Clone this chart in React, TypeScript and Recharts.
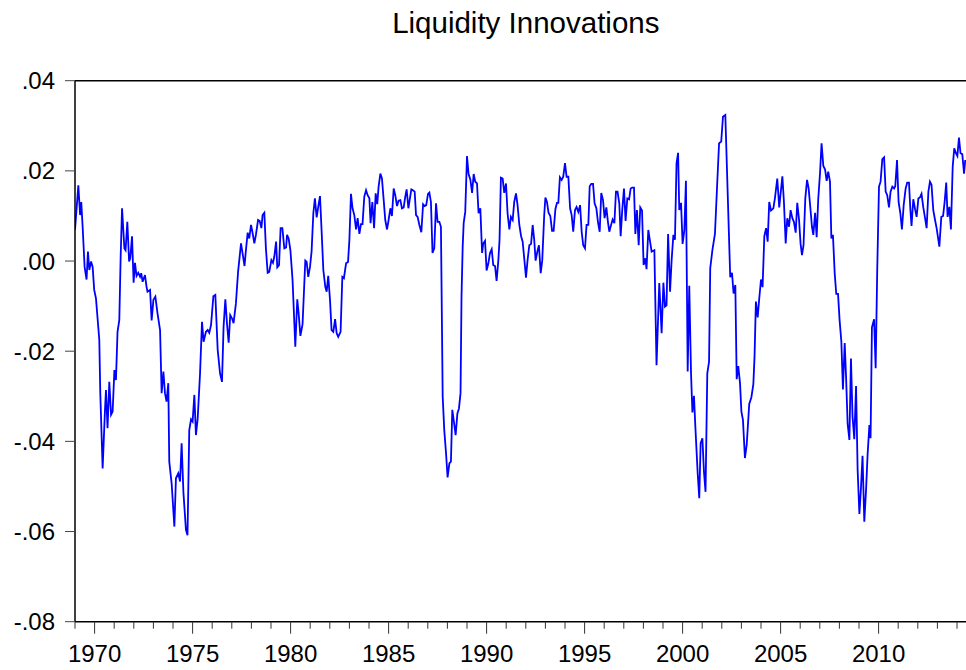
import React from "react";
import { LineChart, Line, XAxis, YAxis, ReferenceLine } from "recharts";

const TITLE = "Liquidity Innovations";

const dates: number[] = [
  1969.00,1969.17,1969.26,1969.32,1969.39,1969.49,1969.59,1969.66,1969.73,1969.82,1969.90,1969.98,
  1970.07,1970.24,1970.29,1970.41,1970.53,1970.58,1970.66,1970.75,1970.84,1970.92,
  1971.01,1971.09,1971.17,1971.26,1971.33,1971.40,1971.52,1971.58,1971.67,1971.76,1971.82,1971.91,1971.99,
  1972.06,1972.14,1972.23,1972.32,1972.38,1972.45,1972.57,1972.65,1972.70,1972.83,1972.91,
  1973.00,1973.10,1973.21,1973.34,1973.42,1973.51,1973.59,1973.67,1973.76,1973.81,1973.93,
  1974.07,1974.15,1974.27,1974.36,1974.44,1974.53,1974.66,1974.74,1974.83,1974.92,
  1975.00,1975.09,1975.17,1975.26,1975.38,1975.48,1975.56,1975.68,1975.77,1975.85,1975.94,
  1976.06,1976.16,1976.28,1976.40,1976.50,1976.58,1976.67,1976.76,1976.84,1976.92,
  1977.01,1977.09,1977.21,1977.32,1977.47,1977.55,1977.65,1977.72,1977.81,1977.89,1977.98,
  1978.05,1978.15,1978.23,1978.34,1978.42,1978.51,1978.57,1978.66,1978.74,1978.83,1978.91,
  1979.02,1979.10,1979.17,1979.26,1979.32,1979.41,1979.49,1979.58,1979.68,1979.77,1979.82,1979.90,1979.99,
  1980.10,1980.24,1980.34,1980.41,1980.50,1980.61,1980.75,1980.82,1980.90,1980.99,
  1981.07,1981.16,1981.24,1981.33,1981.41,1981.50,1981.58,1981.67,1981.77,1981.84,1981.92,
  1982.01,1982.09,1982.18,1982.27,1982.35,1982.43,1982.55,1982.64,1982.72,1982.83,1982.93,
  1983.00,1983.08,1983.16,1983.25,1983.34,1983.42,1983.51,1983.59,1983.67,1983.76,1983.85,1983.93,
  1984.02,1984.08,1984.17,1984.26,1984.34,1984.42,1984.49,1984.58,1984.66,1984.75,1984.83,1984.92,
  1985.00,1985.09,1985.17,1985.26,1985.34,1985.43,1985.51,1985.60,1985.68,1985.77,1985.85,1985.92,
  1986.01,1986.07,1986.16,1986.24,1986.33,1986.40,1986.48,1986.57,1986.67,1986.76,1986.84,1986.92,
  1987.01,1987.08,1987.16,1987.24,1987.33,1987.42,1987.50,1987.59,1987.67,1987.76,1987.84,1987.93,
  1988.01,1988.10,1988.18,1988.25,1988.34,1988.42,1988.51,1988.59,1988.67,1988.72,1988.78,1988.83,1988.91,
  1989.00,1989.08,1989.17,1989.26,1989.34,1989.42,1989.51,1989.59,1989.68,1989.77,1989.83,1989.92,
  1990.00,1990.09,1990.17,1990.26,1990.34,1990.43,1990.51,1990.60,1990.66,1990.73,1990.82,1990.90,1990.99,
  1991.07,1991.16,1991.24,1991.33,1991.41,1991.50,1991.58,1991.67,1991.76,1991.84,1991.92,
  1992.01,1992.09,1992.18,1992.27,1992.35,1992.43,1992.50,1992.59,1992.67,1992.76,1992.84,1992.94,
  1993.00,1993.08,1993.16,1993.25,1993.34,1993.42,1993.51,1993.59,1993.66,1993.74,1993.83,1993.91,
  1994.00,1994.08,1994.17,1994.26,1994.34,1994.42,1994.51,1994.59,1994.68,1994.77,1994.85,1994.93,
  1995.02,1995.10,1995.19,1995.26,1995.34,1995.43,1995.51,1995.60,1995.68,1995.77,1995.85,1995.94,
  1996.02,1996.11,1996.19,1996.26,1996.35,1996.43,1996.52,1996.60,1996.68,1996.77,1996.84,1996.92,
  1997.01,1997.09,1997.18,1997.27,1997.35,1997.43,1997.52,1997.59,1997.67,1997.76,1997.84,1997.93,
  1998.01,1998.10,1998.16,1998.25,1998.34,1998.42,1998.56,1998.67,1998.81,1998.93,
  1999.02,1999.10,1999.18,1999.26,1999.36,1999.44,1999.53,1999.61,1999.69,1999.77,1999.83,1999.92,
  2000.00,2000.09,2000.17,2000.26,2000.34,2000.43,2000.50,2000.58,2000.65,2000.77,2000.85,2000.92,
  2001.01,2001.09,2001.17,2001.26,2001.35,2001.41,2001.52,2001.65,2001.77,2001.86,2001.97,
  2002.06,2002.18,2002.43,2002.52,2002.60,2002.69,2002.76,2002.84,2002.93,
  2003.00,2003.08,2003.18,2003.27,2003.40,2003.51,2003.61,2003.67,2003.74,2003.83,2003.91,
  2004.00,2004.08,2004.17,2004.26,2004.34,2004.42,2004.51,2004.63,2004.71,2004.83,2004.93,
  2005.09,2005.17,2005.26,2005.34,2005.43,2005.51,2005.60,2005.68,2005.77,2005.85,2005.94,
  2006.02,2006.09,2006.17,2006.26,2006.35,2006.43,2006.52,2006.60,2006.67,2006.76,2006.84,2006.92,
  2007.01,2007.09,2007.18,2007.27,2007.35,2007.43,2007.52,2007.59,2007.67,2007.76,2007.84,2007.93,
  2008.01,2008.10,2008.18,2008.27,2008.34,2008.42,2008.51,2008.59,2008.67,2008.76,2008.85,2008.93,
  2009.02,2009.10,2009.18,2009.27,2009.36,2009.44,2009.53,2009.59,2009.66,2009.77,2009.85,2009.93,
  2010.02,2010.10,2010.19,2010.28,2010.36,2010.44,2010.53,2010.61,2010.70,2010.79,2010.85,2010.94,
  2011.02,2011.11,2011.19,2011.28,2011.38,2011.46,2011.55,2011.62,2011.68,2011.77,2011.86,2011.94,
  2012.03,2012.11,2012.19,2012.28,2012.37,2012.45,2012.54,2012.62,2012.70,2012.79,2012.88,2012.96,
  2013.10,2013.20,2013.29,2013.37,2013.45,2013.52,2013.61,2013.69,2013.78,2013.86,2013.95,
  2014.02,2014.10,2014.18,2014.27,2014.36,2014.42,
];

const values: number[] = [
  .0069,.0168,.0102,.0131,.0076,-.0013,-.0041,.0021,-.0020,-.0001,-.0013,-.0064,
  -.0083,-.0175,-.0293,-.0460,-.0330,-.0286,-.0371,-.0268,-.0341,-.0334,
  -.0242,-.0264,-.0157,-.0131,.0010,.0117,.0028,.0024,.0087,-.0001,.0006,.0055,-.0048,
  -.0004,-.0033,-.0026,-.0035,-.0027,-.0046,-.0031,-.0057,-.0068,-.0064,-.0132,
  -.0086,-.0079,-.0116,-.0153,-.0293,-.0245,-.0293,-.0312,-.0271,-.0445,-.0493,
  -.0589,-.0482,-.0471,-.0489,-.0404,-.0512,-.0596,-.0608,-.0375,-.0351,
  -.0356,-.0297,-.0386,-.0349,-.0249,-.0135,-.0179,-.0157,-.0153,-.0159,-.0142,
  -.0078,-.0075,-.0197,-.0249,-.0268,-.0146,-.0085,-.0142,-.0181,-.0120,
  -.0127,-.0138,-.0094,-.0024,.0039,.0017,-.0011,.0024,.0063,.0050,.0080,
  .0065,.0039,.0058,.0091,.0089,.0073,.0102,.0107,.0028,-.0026,-.0024,
  .0002,-.0004,.0010,.0043,-.0014,-.0009,.0073,.0073,.0028,.0030,.0058,.0050,.0024,
  -.0042,-.0190,-.0085,-.0116,-.0166,-.0140,.0001,-.0002,-.0035,-.0013,
  .0021,.0106,.0139,.0097,.0120,.0144,.0069,-.0020,-.0057,-.0068,-.0033,
  -.0086,-.0153,-.0157,-.0129,-.0160,-.0168,-.0157,-.0035,-.0038,-.0005,-.0002,
  .0047,.0149,.0117,.0102,.0070,.0095,.0060,.0082,.0082,.0143,.0157,.0146,
  .0139,.0084,.0131,.0073,.0150,.0126,.0165,.0194,.0183,.0135,.0091,.0070,
  .0091,.0117,.0100,.0161,.0146,.0122,.0134,.0135,.0117,.0119,.0143,.0159,
  .0117,.0134,.0159,.0157,.0154,.0102,.0098,.0080,.0064,.0126,.0122,.0124,
  .0149,.0152,.0131,.0018,.0028,.0128,.0087,.0087,.0076,-.0301,-.0375,-.0426,
  -.0480,-.0449,-.0445,-.0330,-.0359,-.0386,-.0338,-.0327,-.0293,-.0079,.0032,.0084,.0109,
  .0233,.0193,.0181,.0151,.0193,.0176,.0172,.0106,.0117,.0018,.0039,.0045,
  -.0021,-.0005,.0017,.0026,-.0009,-.0011,-.0044,.0002,.0047,.0185,.0183,.0151,.0172,
  .0106,.0070,.0098,.0091,.0131,.0150,.0124,.0080,.0055,.0043,.0006,
  -.0037,.0002,.0035,.0038,.0080,.0047,.0001,.0021,.0035,-.0027,.0002,.0102,
  .0141,.0131,.0107,.0100,.0067,.0067,.0115,.0129,.0129,.0186,.0180,.0187,
  .0217,.0187,.0187,.0117,.0102,.0065,.0113,.0120,.0109,.0124,.0065,.0035,
  .0028,.0080,.0080,.0166,.0171,.0171,.0128,.0117,.0087,.0065,.0151,.0135,
  .0095,.0119,.0087,.0065,.0080,.0092,.0084,.0154,.0154,.0128,.0055,.0113,
  .0161,.0089,.0139,.0137,.0161,.0163,.0163,.0060,.0113,.0035,.0119,.0112,
  -.0009,.0006,-.0018,.0069,.0043,.0021,.0024,-.0231,-.0049,-.0160,
  -.0048,-.0101,-.0098,.0060,-.0068,.0002,.0058,.0047,.0217,.0240,.0113,.0129,
  .0038,.0069,.0178,-.0245,-.0055,-.0249,-.0336,-.0299,-.0367,-.0471,-.0526,-.0404,
  -.0393,-.0467,-.0512,-.0249,-.0223,-.0016,.0024,.0060,.0176,.0261,.0265,
  .0320,.0324,-.0036,-.0026,-.0072,-.0053,-.0262,-.0233,-.0271,
  -.0334,-.0353,-.0437,-.0408,-.0317,-.0302,-.0273,-.0212,-.0090,-.0125,-.0083,
  -.0041,-.0058,.0055,.0073,.0043,.0131,.0112,.0117,.0139,.0183,.0119,
  .0188,.0131,.0039,.0095,.0076,.0113,.0095,.0087,.0063,.0129,.0092,
  .0038,.0013,.0035,.0139,.0180,.0161,.0117,.0076,.0058,.0107,.0053,.0137,
  .0194,.0261,.0211,.0203,.0178,.0198,.0176,.0050,.0058,-.0027,-.0073,-.0073,
  -.0131,-.0179,-.0285,-.0182,-.0257,-.0361,-.0397,-.0216,-.0345,-.0395,-.0277,-.0463,
  -.0561,-.0504,-.0432,-.0578,-.0508,-.0428,-.0364,-.0393,-.0147,-.0129,-.0238,-.0020,
  .0165,.0176,.0226,.0230,.0154,.0146,.0119,.0154,.0165,.0161,.0166,.0224,
  .0131,.0106,.0070,.0124,.0161,.0174,.0174,.0115,.0078,.0137,.0115,.0098,
  .0139,.0141,.0149,.0119,.0095,.0073,.0154,.0176,.0169,.0113,.0091,.0073,
  .0032,.0098,.0100,.0131,.0174,.0098,.0120,.0070,.0209,.0250,.0239,
  .0233,.0274,.0239,.0237,.0194,.0224,
];

const yTicks: number[] = [-0.08, -0.06, -0.04, -0.02, 0, 0.02, 0.04];
const xTickYears: number[] = Array.from({ length: 46 }, (_, i) => 1969 + i);

const data = dates.map((t, i) => ({ t, v: values[i] }));

const FONT = '"Liberation Sans", Arial, sans-serif';

const fmtY = (v: number) => {
  const s = v.toFixed(2);
  return s.replace("0.", ".");
};

const XTick = (props: any) => {
  const { x, y, payload } = props;
  const yr = Math.round(payload.value);
  const major = yr % 5 === 0;
  return (
    <g>
      <line x1={x} y1={y} x2={x} y2={y + (major ? 12 : 7)} stroke="#333" strokeWidth={1} />
      {major && (
        <text x={x} y={y + 40.5} textAnchor="middle" fontSize={24} fontFamily={FONT} fill="#000">
          {yr}
        </text>
      )}
    </g>
  );
};

export default function App() {
  return (
    <div
      style={{
        position: "fixed",
        left: 0,
        top: 0,
        width: 966,
        height: 670,
        overflow: "hidden",
        background: "#fff",
      }}
    >
      <LineChart
        width={1000}
        height={670}
        data={data}
        margin={{ top: 80.7, right: 23.4, bottom: 0, left: 0 }}
      >
        <XAxis
          type="number"
          dataKey="t"
          domain={[1969, 2015]}
          allowDataOverflow
          ticks={xTickYears}
          interval={0}
          tick={<XTick />}
          tickLine={false}
          tickSize={0}
          tickMargin={0}
          height={48.3}
          axisLine={{ stroke: "#000", strokeWidth: 1.5 }}
        />
        <YAxis
          type="number"
          domain={[-0.08, 0.04]}
          ticks={yTicks}
          interval={0}
          width={75}
          tickSize={10}
          tickMargin={10}
          tickFormatter={fmtY}
          tick={{ fontSize: 24, fontFamily: FONT, fill: "#000" }}
          tickLine={{ stroke: "#444", strokeWidth: 1 }}
          axisLine={{ stroke: "#000", strokeWidth: 1.5 }}
          allowDataOverflow
        />
        <ReferenceLine y={0.04} stroke="#000" strokeWidth={1.5} />
        <Line
          type="linear"
          dataKey="v"
          stroke="#0000ff"
          strokeWidth={1.8}
          dot={false}
          isAnimationActive={false}
        />
      </LineChart>
      <svg
        width={966}
        height={60}
        style={{ position: "absolute", left: 0, top: 0, pointerEvents: "none" }}
      >
        <text x={525.8} y={32.7} textAnchor="middle" fontSize={29.5} fontFamily={FONT} fill="#000">
          {TITLE}
        </text>
      </svg>
    </div>
  );
}
